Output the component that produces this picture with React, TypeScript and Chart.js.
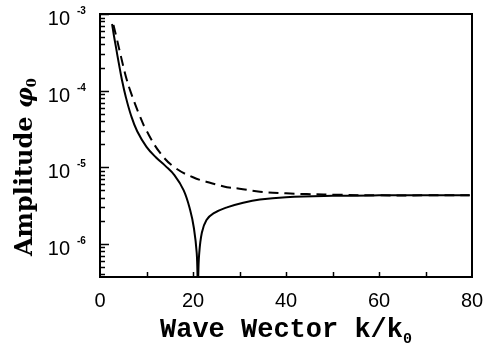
import React, { useEffect, useRef } from "react";
import { Chart, registerables } from "chart.js";

Chart.register(...registerables);

// Wave vector k/k0 and amplitude (solid curve)
const solidK = [2.6, 3, 3.5, 4, 4.7, 5.5, 6.7, 8, 10, 12, 14, 16, 18, 19.4, 20.2, 20.8, 21.05, 21.3, 21.9, 22.9, 24.4, 27.3, 30.8, 34.4, 40, 50, 60, 70, 79.5];
const solidAmp = [7.4e-4, 5.2e-4, 3.5e-4, 2.35e-4, 1.4e-4, 8.5e-5, 4.7e-5, 2.95e-5, 1.85e-5, 1.35e-5, 1.05e-5, 7.9e-6, 5.0e-6, 2.75e-6, 1.6e-6, 7.6e-7, 3.0e-7, 7.0e-7, 1.4e-6, 2.05e-6, 2.5e-6, 3.0e-6, 3.45e-6, 3.8e-6, 4.07e-6, 4.24e-6, 4.3e-6, 4.3e-6, 4.3e-6];

// Dashed curve
const dashK = [2.9, 3.6, 4.5, 5.5, 6.5, 8.6, 10, 12.9, 16, 20, 24, 27.3, 30, 34.4, 40, 44.5, 51.6, 60, 70, 79.5];
const dashAmp = [7.2e-4, 4.8e-4, 2.8e-4, 1.58e-4, 1.0e-4, 4.6e-5, 3.0e-5, 1.55e-5, 1.0e-5, 7.4e-6, 6.2e-6, 5.5e-6, 5.25e-6, 4.8e-6, 4.57e-6, 4.47e-6, 4.37e-6, 4.3e-6, 4.3e-6, 4.3e-6];

// Axes
const xMin = 0;
const xMax = 80;
const xTickStep = 10;
const xLabelStep = 20;
const yMin = 3.7e-7;
const yMax = 1e-3;
const yDecades = [-3, -4, -5, -6];

const xTitle = "Wave Wector k/k";
const xTitleSub = "0";
const yTitle = "Amplitude ";
const yTitleSym = "\u03C6";
const yTitleSub = "0";

const framePlugin = {
  id: "frameAndLabels",
  afterDatasetsDraw(chart: any) {
    const ctx = chart.ctx as CanvasRenderingContext2D;
    const { left, right, top, bottom } = chart.chartArea;
    const xs = chart.scales.x;
    const ys = chart.scales.y;
    ctx.save();
    ctx.strokeStyle = "#000";
    ctx.fillStyle = "#000";
    // frame
    ctx.lineWidth = 2;
    ctx.strokeRect(left, top, right - left, bottom - top);
    // y ticks (inward)
    ctx.lineWidth = 1.5;
    for (let d = -7; d <= -3; d++) {
      for (let m = 1; m <= 9; m++) {
        const v = m * Math.pow(10, d);
        if (v < yMin || v > yMax) continue;
        const y = Math.round(ys.getPixelForValue(v)) + 0.5;
        const len = m === 1 ? 9 : 5;
        ctx.beginPath();
        ctx.moveTo(left, y);
        ctx.lineTo(left + len, y);
        ctx.stroke();
      }
    }
    // x ticks (inward)
    for (let v = xMin + xTickStep; v < xMax; v += xTickStep) {
      const x = Math.round(xs.getPixelForValue(v)) + 0.5;
      ctx.beginPath();
      ctx.moveTo(x, bottom);
      ctx.lineTo(x, bottom - 5);
      ctx.stroke();
    }
    // y tick labels 10^n
    for (const d of yDecades) {
      const y = ys.getPixelForValue(Math.pow(10, d));
      ctx.font = "20px 'Liberation Sans', Arial, sans-serif";
      ctx.textAlign = "right";
      ctx.textBaseline = "alphabetic";
      ctx.fillText("10", 70, y + 11);
      ctx.font = "bold 10px 'Liberation Sans', Arial, sans-serif";
      ctx.textAlign = "left";
      ctx.fillText("-" + String(-d), 77, y);
    }
    // x title
    ctx.font = "bold 27px 'Liberation Mono', 'Courier New', monospace";
    const subFont = "bold 15px 'Liberation Mono', 'Courier New', monospace";
    const w1 = ctx.measureText(xTitle).width;
    ctx.font = subFont;
    const w2 = ctx.measureText(xTitleSub).width;
    const cx = (left + right) / 2;
    const sx = cx - (w1 + w2) / 2;
    ctx.textAlign = "left";
    ctx.font = "bold 27px 'Liberation Mono', 'Courier New', monospace";
    ctx.fillText(xTitle, sx, 337);
    ctx.font = subFont;
    ctx.fillText(xTitleSub, sx + w1, 343);
    // y title (rotated)
    ctx.translate(32, 256);
    ctx.rotate(-Math.PI / 2);
    ctx.font = "bold 24px 'DejaVu Serif', serif";
    ctx.fillText(yTitle, 0, 0);
    let off = ctx.measureText(yTitle).width;
    ctx.font = "italic bold 23px 'DejaVu Serif', serif";
    ctx.fillText(yTitleSym, off, 0);
    off += ctx.measureText(yTitleSym).width;
    ctx.font = "bold 13px 'DejaVu Serif', serif";
    ctx.fillText(yTitleSub, off, 4);
    ctx.restore();
  },
};

export default function App() {
  const ref = useRef<HTMLCanvasElement | null>(null);
  useEffect(() => {
    if (!ref.current) return;
    const chart = new Chart(ref.current, {
      type: "line",
      data: {
        datasets: [
          {
            data: solidK.map((k, i) => ({ x: k, y: solidAmp[i] })),
            borderColor: "#000",
            borderWidth: 2,
            pointRadius: 0,
            fill: false,
            tension: 0.4,
            clip: 0,
          },
          {
            data: dashK.map((k, i) => ({ x: k, y: dashAmp[i] })),
            borderColor: "#000",
            borderWidth: 2,
            borderDash: [10, 6],
            pointRadius: 0,
            fill: false,
            tension: 0.4,
            clip: 0,
          },
        ],
      },
      options: {
        responsive: false,
        animation: false,
        devicePixelRatio: 1,
        layout: { padding: { top: 14, right: 13, left: 0, bottom: 0 } },
        plugins: { legend: { display: false }, tooltip: { enabled: false } },
        scales: {
          x: {
            type: "linear",
            min: xMin,
            max: xMax,
            grid: { display: false },
            border: { display: false },
            ticks: {
              stepSize: xTickStep,
              autoSkip: false,
              maxRotation: 0,
              padding: 4,
              color: "#000",
              font: { size: 20, family: "'Liberation Sans', Arial, sans-serif" },
              callback: (v: any) => (Number(v) % xLabelStep === 0 ? String(v) : ""),
            },
            afterFit: (s: any) => {
              s.height = 71;
              s.paddingLeft = 0;
              s.paddingRight = 0;
            },
          },
          y: {
            type: "logarithmic",
            min: yMin,
            max: yMax,
            grid: { display: false },
            border: { display: false },
            ticks: { display: false },
            afterFit: (s: any) => {
              s.width = 100;
              s.paddingTop = 0;
              s.paddingBottom = 0;
            },
          },
        },
      },
      plugins: [framePlugin],
    } as any);
    return () => chart.destroy();
  }, []);
  return (
    <div style={{ position: "absolute", left: 0, top: 0, width: 485, height: 348, background: "#fff" }}>
      <canvas ref={ref} width={485} height={348} style={{ display: "block" }} />
    </div>
  );
}
